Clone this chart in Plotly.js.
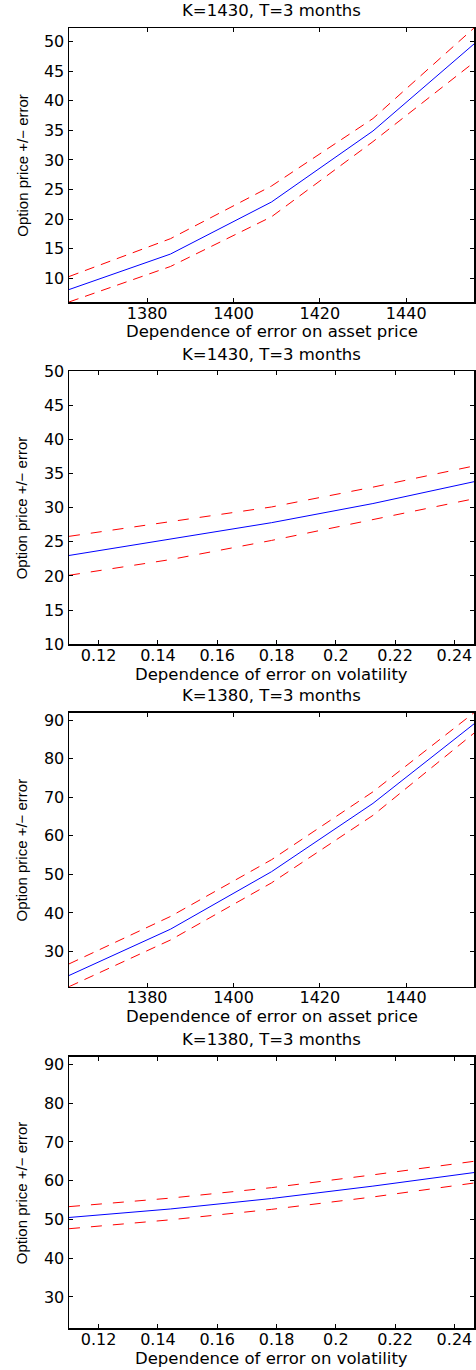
<!DOCTYPE html>
<html>
<head>
<meta charset="utf-8">
<script src="https://cdn.plot.ly/plotly-3.0.1.min.js"></script>
<style>
  html, body { margin: 0; padding: 0; background: #ffffff; }
  #chart { width: 476px; height: 1370px; }
</style>
</head>
<body>
<div id="chart"></div>
<script>
// ---------- data ----------
const panelTitles = ["K=1430, T=3 months", "K=1430, T=3 months", "K=1380, T=3 months", "K=1380, T=3 months"];
const xTitles = ["Dependence of error on asset price", "Dependence of error on volatility",
                 "Dependence of error on asset price", "Dependence of error on volatility"];
const yTitle = "Option price +/\u2212 error";

const assetPrice = [1361.9, 1385.4, 1408.8, 1432.3, 1455.7];
const volatility = [0.11, 0.1442, 0.1783, 0.2125, 0.2466];

// K=1430, asset price
const p1Price = [8.1, 14.1, 22.9, 34.9, 49.6];
const p1Upper = [10.3, 16.7, 25.6, 37.0, 52.3];
const p1Lower = [6.0, 12.0, 20.4, 33.1, 46.5];
// K=1430, volatility
const p2Price = [23.0, 25.4, 27.8, 30.6, 33.8];
const p2Upper = [25.8, 27.9, 30.1, 33.0, 36.1];
const p2Lower = [20.1, 22.4, 25.2, 28.3, 31.3];
// K=1380, asset price
const p3Price = [23.8, 35.8, 50.7, 68.4, 89.0];
const p3Upper = [26.8, 39.1, 53.8, 71.4, 91.9];
const p3Lower = [20.9, 33.0, 47.8, 65.3, 86.6];
// K=1380, volatility
const p4Price = [50.5, 52.7, 55.4, 58.6, 62.1];
const p4Upper = [53.3, 55.5, 58.2, 61.5, 65.0];
const p4Lower = [47.6, 49.9, 52.6, 55.8, 59.4];

const assetTicks = [1380, 1400, 1420, 1440];
const volTicks = [0.12, 0.14, 0.16, 0.18, 0.2, 0.22, 0.24];
const yTicks1 = [10, 15, 20, 25, 30, 35, 40, 45, 50];
const yTicks2 = [10, 15, 20, 25, 30, 35, 40, 45, 50];
const yTicks3 = [30, 40, 50, 60, 70, 80, 90];
const yTicks4 = [30, 40, 50, 60, 70, 80, 90];

// ---------- layout geometry ----------
const W = 476, H = 1370;
const plotLeft = 69, plotRight = 474;
const panelTops = [28, 371, 712.7, 1056.7];
const panelBottoms = [302, 644.3, 986.7, 1328.3];
const xRanges = [[1361.9, 1455.7], [0.11, 0.2466], [1361.9, 1455.7], [0.11, 0.2466]];
const yRanges = [[6.0, 52.3], [10, 50], [20.9, 91.9], [21.9, 92.0]];

const panels = [
  {x: assetPrice, mid: p1Price, up: p1Upper, lo: p1Lower, xt: assetTicks, yt: yTicks1, dash: "10px,7px"},
  {x: volatility, mid: p2Price, up: p2Upper, lo: p2Lower, xt: volTicks, yt: yTicks2, dash: "11px,11px"},
  {x: assetPrice, mid: p3Price, up: p3Upper, lo: p3Lower, xt: assetTicks, yt: yTicks3, dash: "10px,7px"},
  {x: volatility, mid: p4Price, up: p4Upper, lo: p4Lower, xt: volTicks, yt: yTicks4, dash: "11px,11px"}
];

const tickFont = {family: "DejaVu Sans", size: 16, color: "#000000"};
const titleFont = {family: "DejaVu Sans", size: 16.5, color: "#000000"};
const yTitleFont = {family: "Liberation Sans", size: 15, color: "#000000"};

const traces = [];
const layout = {
  width: W, height: H,
  margin: {l: 0, r: 0, t: 0, b: 0, pad: 0},
  paper_bgcolor: "#ffffff",
  plot_bgcolor: "#ffffff",
  showlegend: false,
  annotations: []
};

panels.forEach((p, i) => {
  const n = i + 1;
  const xa = "x" + (n === 1 ? "" : n);
  const ya = "y" + (n === 1 ? "" : n);
  const lineRed = {color: "#ff0000", width: 1, dash: p.dash};
  traces.push({x: p.x, y: p.up, xaxis: xa, yaxis: ya, type: "scatter", mode: "lines", line: lineRed, hoverinfo: "skip"});
  traces.push({x: p.x, y: p.lo, xaxis: xa, yaxis: ya, type: "scatter", mode: "lines", line: lineRed, hoverinfo: "skip"});
  traces.push({x: p.x, y: p.mid, xaxis: xa, yaxis: ya, type: "scatter", mode: "lines", line: {color: "#0000ff", width: 1}});

  const y0 = 1 - panelBottoms[i] / H, y1 = 1 - panelTops[i] / H;
  const common = {
    showline: true, linecolor: "#000000", linewidth: 1.5, mirror: "ticks",
    ticks: "inside", ticklen: 4, tickwidth: 1, tickcolor: "#000000",
    showgrid: false, zeroline: false, tickfont: tickFont, fixedrange: true
  };
  layout["xaxis" + (n === 1 ? "" : n)] = Object.assign({}, common, {
    domain: [plotLeft / W, plotRight / W], range: xRanges[i], anchor: ya,
    tickmode: "array", tickvals: p.xt, ticktext: p.xt.map(String),
    ticklabelstandoff: -4
  });
  layout["yaxis" + (n === 1 ? "" : n)] = Object.assign({}, common, {
    domain: [y0, y1], range: yRanges[i], anchor: xa,
    tickmode: "array", tickvals: p.yt, ticktext: p.yt.map(String)
  });

  const cx = (plotLeft + plotRight) / 2 / W;
  layout.annotations.push({
    text: panelTitles[i], xref: "paper", yref: "paper", x: cx, y: 1 - (panelTops[i] - 17) / H,
    xanchor: "center", yanchor: "middle", showarrow: false, font: titleFont
  });
  layout.annotations.push({
    text: xTitles[i], xref: "paper", yref: "paper", x: cx, y: 1 - (panelBottoms[i] + 30) / H,
    xanchor: "center", yanchor: "middle", showarrow: false, font: titleFont
  });
  layout.annotations.push({
    text: yTitle, xref: "paper", yref: "paper", x: 21.7 / W, y: 1 - (panelTops[i] + panelBottoms[i]) / 2 / H,
    xanchor: "center", yanchor: "middle", textangle: -90, showarrow: false, font: yTitleFont
  });
});

Plotly.newPlot("chart", traces, layout, {displayModeBar: false, staticPlot: true});
</script>
</body>
</html>
